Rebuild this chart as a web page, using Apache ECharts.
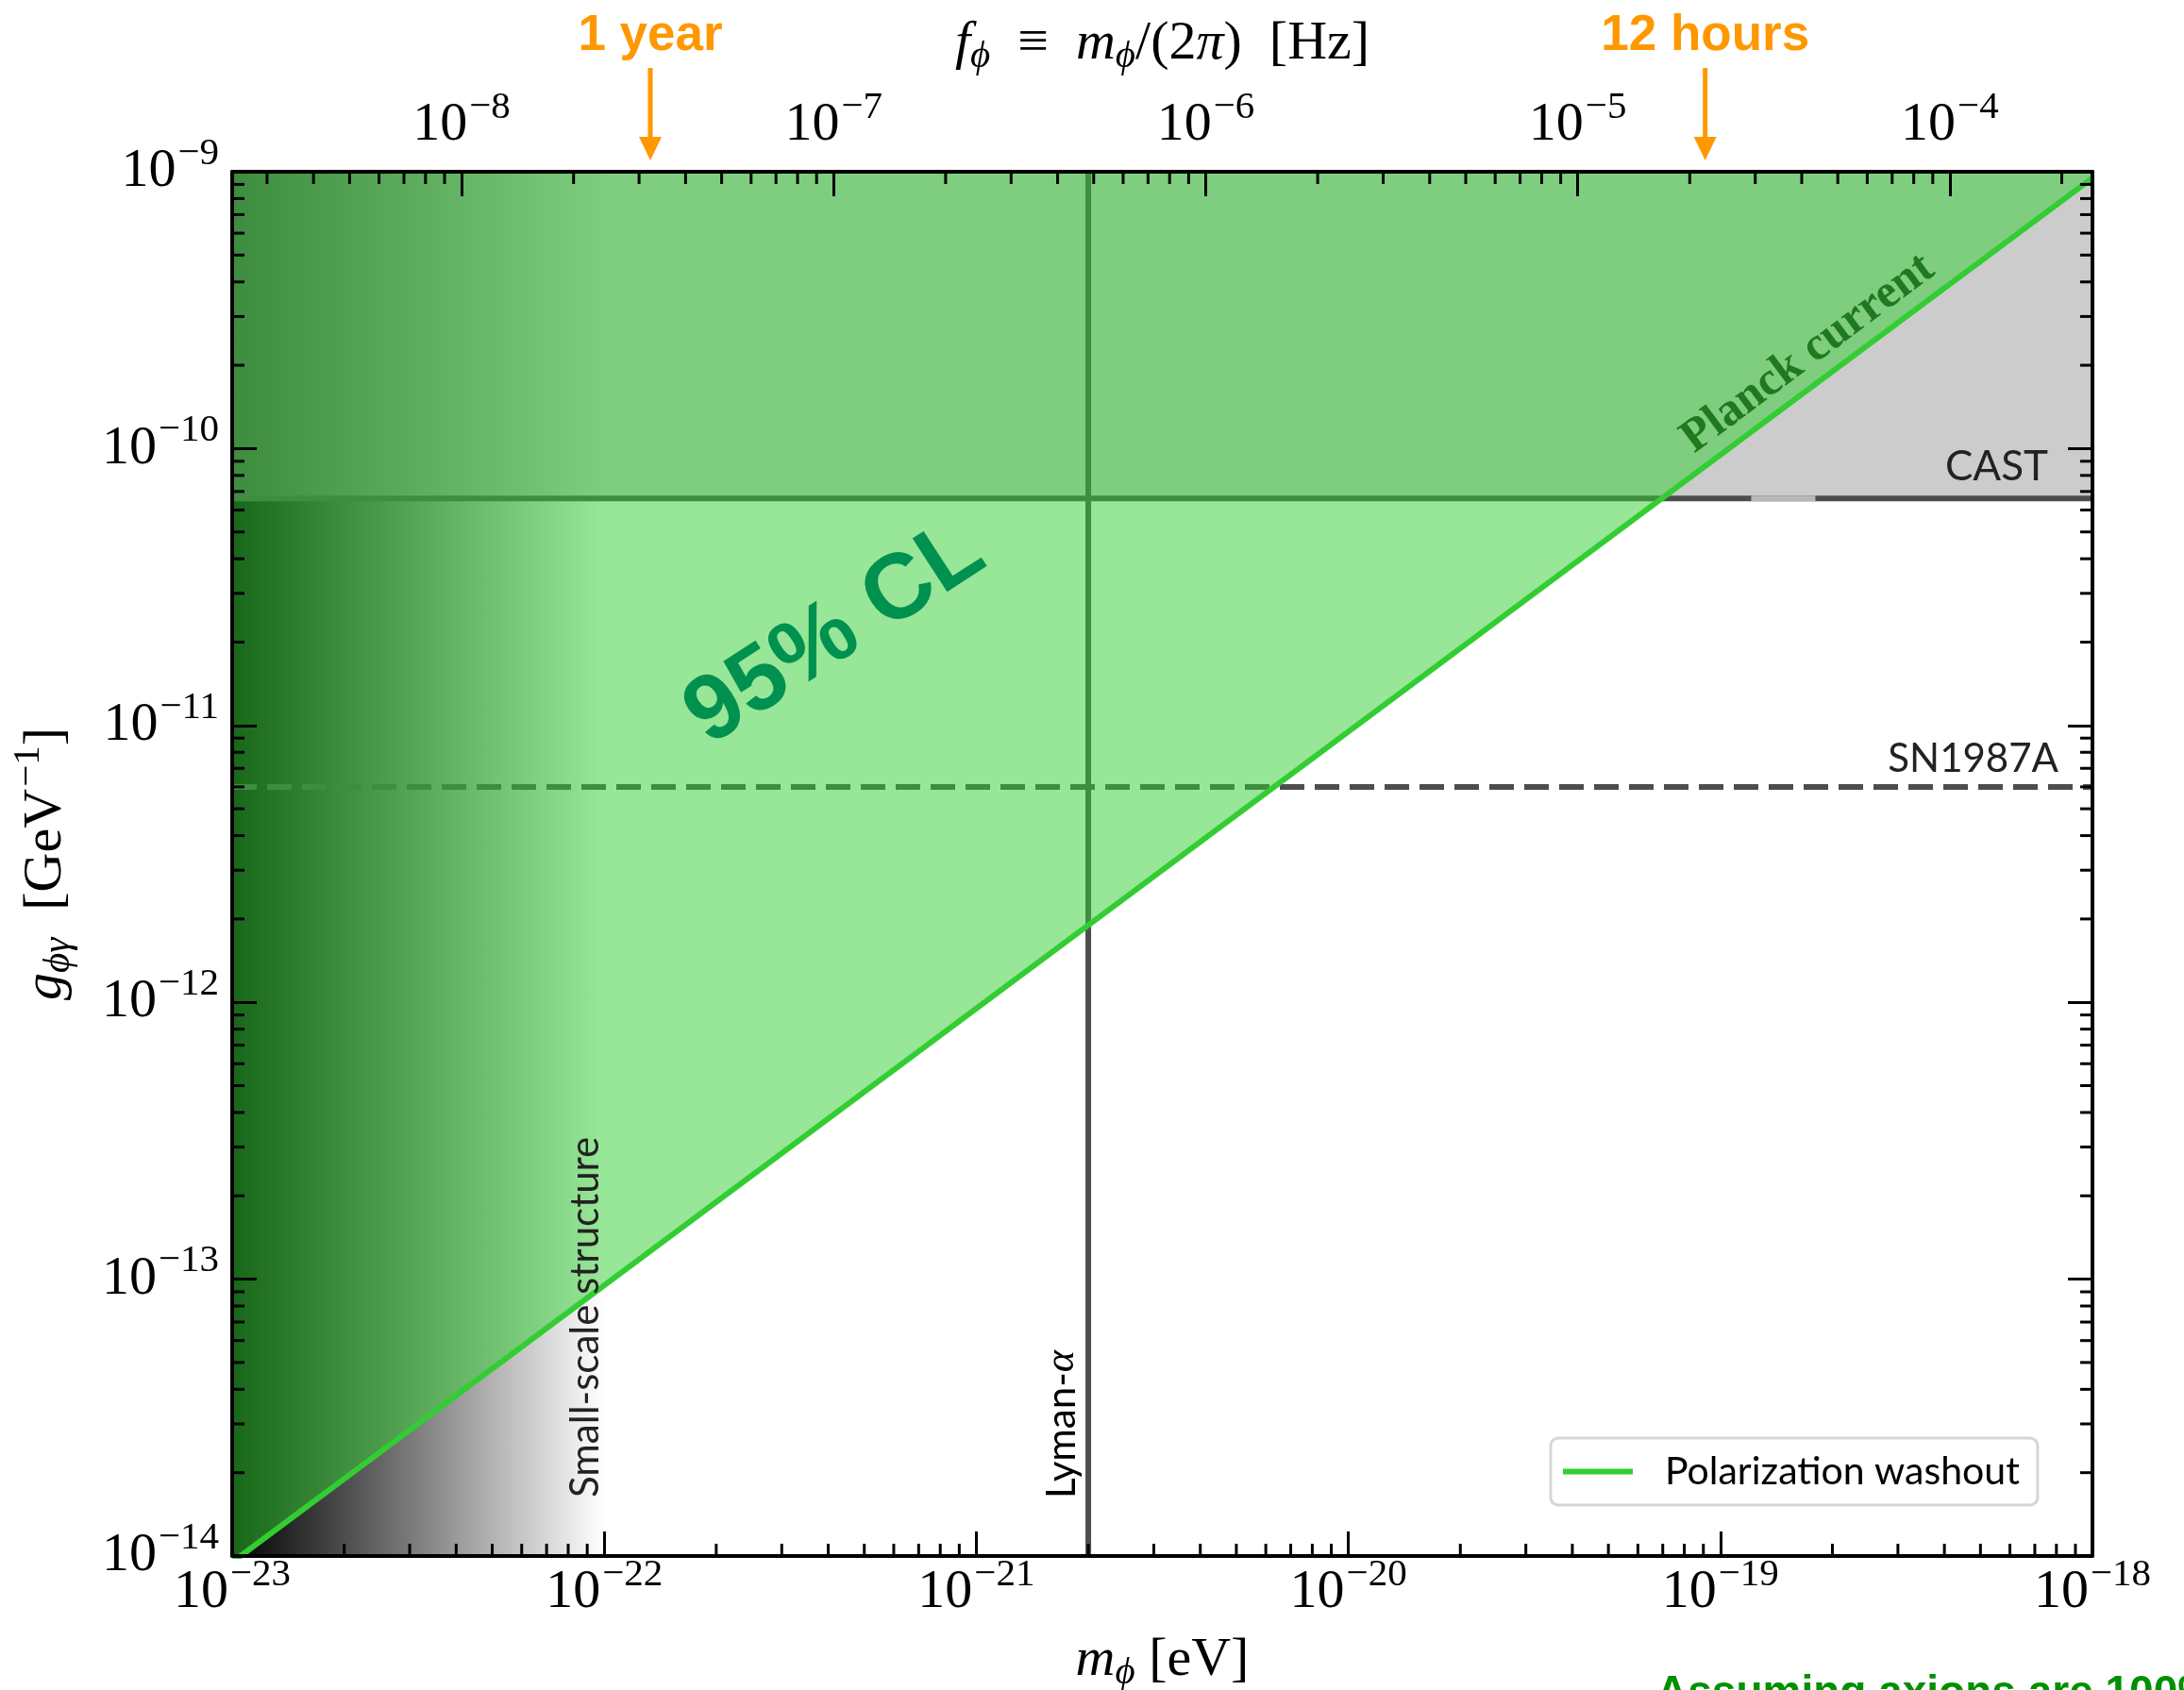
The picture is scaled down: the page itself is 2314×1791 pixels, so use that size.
<!DOCTYPE html>
<html><head><meta charset="utf-8">
<script src="https://cdn.jsdelivr.net/npm/echarts@6/dist/echarts.min.js"></script>
<style>html,body{margin:0;padding:0;background:#fff}#main{width:2314px;height:1791px}</style>
</head><body><div id="main"></div>
<script>
// ---------------- data ----------------
const massRange = [1e-23, 1e-18];            // m_phi [eV]
const couplingRange = [1e-14, 1e-9];         // g_phi-gamma [GeV^-1]
const eVtoHz = 2.418e14;                     // f = m/(2 pi hbar)
const washoutMass = [1e-23, 1e-18];
const washoutCoupling = [9.5e-15, 9.5e-10];
const castCoupling = 6.6e-11;
const castGapMass = [1.21e-19, 1.8e-19];
const sn1987aCoupling = 6.0e-12;
const lymanAlphaMass = 2.0e-21;
const smallScaleMass = [1e-23, 1e-22];
const periodLabels = ['1 year', '12 hours'];
const periodMasses = [1.33e-22, 9.1e-20];

// ECharts rounds very small numbers, so the axes work in scaled units
const M_EXP = -23, G_EXP = -14, F_EXP = -9;
const mU = m => m / Math.pow(10, M_EXP);
const gU = g => g / Math.pow(10, G_EXP);
const fU = f => f / Math.pow(10, F_EXP);
const xy = (m, g) => [mU(m), gU(g)];
const freqRangeU = [fU(massRange[0] * eVtoHz), fU(massRange[1] * eVtoHz)];

// ---------------- helpers ----------------
const SERIF = 'Liberation Serif';
const SANS = 'Lato';
const MAJOR = 26, MINOR = 13, TICKW = 3, LW = 6;

function minorValues(lo, hi) {
  const out = [];
  for (let e = Math.floor(Math.log10(lo)) - 1; e <= Math.ceil(Math.log10(hi)); e++) {
    for (let k = 2; k <= 9; k++) {
      const v = k * Math.pow(10, e);
      if (v > lo * 1.0001 && v < hi * 0.9999) out.push(v);
    }
  }
  return out;
}
function powLabelFn(shift) {
  return function (v) {
    const l = Math.log10(v), e0 = Math.round(l);
    if (!isFinite(l) || Math.abs(l - e0) > 1e-4) return '';
    const e = e0 + shift;
    return '{b|10}{s|' + (e < 0 ? '\u2212' : '') + Math.abs(e) + '}';
  };
}
const tickRich = {
  b: { fontFamily: SERIF, fontSize: 58, lineHeight: 62, color: '#000', verticalAlign: 'middle' },
  s: { fontFamily: SERIF, fontSize: 41, lineHeight: 44, color: '#000', verticalAlign: 'middle', padding: [0, 0, 38, 2] }
};
function tickSeries(valuesU, side) {
  return {
    type: 'custom', coordinateSystem: 'cartesian2d', xAxisIndex: 0, yAxisIndex: 0,
    z: 11, silent: true, clip: false,
    data: valuesU.map(v => (side === 'bottom' || side === 'top') ? [v, 1] : [1, v]),
    renderItem: function (params, api) {
      const cs = params.coordSys;
      const p = api.coord([api.value(0), api.value(1)]);
      let shape;
      if (side === 'bottom') shape = { x1: p[0], y1: cs.y + cs.height, x2: p[0], y2: cs.y + cs.height - MINOR };
      else if (side === 'top') shape = { x1: p[0], y1: cs.y, x2: p[0], y2: cs.y + MINOR };
      else if (side === 'left') shape = { x1: cs.x, y1: p[1], x2: cs.x + MINOR, y2: p[1] };
      else shape = { x1: cs.x + cs.width, y1: p[1], x2: cs.x + cs.width - MINOR, y2: p[1] };
      return { type: 'line', shape: shape, style: { stroke: '#000', lineWidth: TICKW } };
    }
  };
}
function axisCommon(extra) {
  return Object.assign({
    type: 'log', logBase: 10, z: 10,
    axisLine: { show: true, onZero: false, lineStyle: { color: '#000', width: 4 } },
    axisTick: { show: true, inside: true, length: MAJOR, lineStyle: { color: '#000', width: TICKW } },
    minorTick: { show: false }, splitLine: { show: false }, minorSplitLine: { show: false }
  }, extra);
}

const chart = echarts.init(document.getElementById('main'), null, { renderer: 'canvas' });

const option = {
  backgroundColor: '#fff',
  animation: false,
  grid: { left: 246, top: 182, width: 1971, height: 1467, show: false },
  legend: {
    data: ['Polarization washout'], left: 1643, top: 1524, z: 20,
    padding: [13, 19, 13, 13], backgroundColor: '#fff',
    borderColor: '#d6d6d6', borderWidth: 3, borderRadius: 8,
    icon: 'rect', itemWidth: 74, itemHeight: 6,
    textStyle: { fontFamily: SANS, fontSize: 41, lineHeight: 45, color: '#000', padding: [0, 0, 0, 29] }
  },
  xAxis: [
    axisCommon({ position: 'bottom', min: mU(massRange[0]), max: mU(massRange[1]),
      axisLabel: { margin: 8, formatter: powLabelFn(M_EXP), rich: tickRich, showMinLabel: true, showMaxLabel: true } }),
    axisCommon({ position: 'top', min: freqRangeU[0], max: freqRangeU[1],
      axisLabel: { margin: 18, formatter: powLabelFn(F_EXP), rich: tickRich, showMinLabel: false, showMaxLabel: false } })
  ],
  yAxis: [
    axisCommon({ position: 'left', min: gU(couplingRange[0]), max: gU(couplingRange[1]),
      axisLabel: { margin: 14, formatter: powLabelFn(G_EXP), rich: tickRich } }),
    axisCommon({ position: 'right', min: gU(couplingRange[0]), max: gU(couplingRange[1]),
      axisLabel: { show: false } })
  ],
  series: [
    // small-scale structure gradient
    {
      type: 'custom', xAxisIndex: 0, yAxisIndex: 0, z: 1, silent: true, clip: true,
      data: [xy(smallScaleMass[0], couplingRange[1])],
      renderItem: function (params, api) {
        const a = api.coord(xy(smallScaleMass[0], couplingRange[1]));
        const b = api.coord(xy(smallScaleMass[1], couplingRange[0]));
        return { type: 'rect', shape: { x: a[0], y: a[1], width: b[0] - a[0], height: b[1] - a[1] },
          style: { fill: new echarts.graphic.LinearGradient(0, 0, 1, 0, [
            { offset: 0, color: '#000000' }, { offset: 1, color: '#ffffff' }]) } };
      }
    },
    // CAST excluded region
    {
      type: 'custom', xAxisIndex: 0, yAxisIndex: 0, z: 2, silent: true, clip: true,
      data: [xy(massRange[0], castCoupling)],
      renderItem: function (params, api) {
        const pts = [api.coord(xy(massRange[0], castCoupling)), api.coord(xy(massRange[1], castCoupling)),
          api.coord(xy(massRange[1], couplingRange[1])), api.coord(xy(massRange[0], couplingRange[1]))];
        return { type: 'polygon', shape: { points: pts }, style: { fill: 'rgba(151,151,151,0.49)' } };
      }
    },
    // CAST line
    { type: 'line', name: 'CAST', z: 3, symbol: 'none', silent: true,
      data: [xy(massRange[0], castCoupling), xy(massRange[1], castCoupling)],
      lineStyle: { color: '#4d4d4d', width: LW } },
    { type: 'line', name: 'CASTgap', z: 3, symbol: 'none', silent: true,
      data: [xy(castGapMass[0], castCoupling), xy(castGapMass[1], castCoupling)],
      lineStyle: { color: '#b8b8b8', width: LW } },
    // SN1987A
    { type: 'line', name: 'SN1987A', z: 3, symbol: 'none', silent: true,
      data: [xy(massRange[0], sn1987aCoupling), xy(massRange[1], sn1987aCoupling)],
      lineStyle: { color: '#4d4d4d', width: LW, type: [26, 11] } },
    // Lyman-alpha
    { type: 'line', name: 'Lyman', z: 3, symbol: 'none', silent: true,
      data: [xy(lymanAlphaMass, couplingRange[0]), xy(lymanAlphaMass, couplingRange[1])],
      lineStyle: { color: '#4d4d4d', width: LW } },
    // excluded (95% CL) green region
    {
      type: 'custom', xAxisIndex: 0, yAxisIndex: 0, z: 4, silent: true, clip: true,
      data: [xy(washoutMass[0], washoutCoupling[0])],
      renderItem: function (params, api) {
        const pts = [api.coord(xy(washoutMass[0], washoutCoupling[0])), api.coord(xy(washoutMass[1], washoutCoupling[1])),
          api.coord(xy(massRange[1], couplingRange[1])), api.coord(xy(massRange[0], couplingRange[1]))];
        return { type: 'polygon', shape: { points: pts }, style: { fill: 'rgba(50,205,50,0.5)' } };
      }
    },
    // washout line
    { type: 'line', name: 'Polarization washout', z: 5, symbol: 'none', silent: true,
      data: washoutMass.map((m, i) => xy(m, washoutCoupling[i])),
      itemStyle: { color: '#32cd32' },
      lineStyle: { color: '#32cd32', width: LW } },
    // period markers (arrows above the frame)
    {
      type: 'custom', xAxisIndex: 0, yAxisIndex: 0, z: 12, silent: true, clip: false,
      data: periodMasses.map(m => xy(m, couplingRange[1])),
      renderItem: function (params, api) {
        const cs = params.coordSys;
        const x = api.coord([api.value(0), api.value(1)])[0];
        const top = cs.y;
        return { type: 'group', children: [
          { type: 'line', shape: { x1: x, y1: top - 110, x2: x, y2: top - 34 }, style: { stroke: '#ff9800', lineWidth: 5 } },
          { type: 'polygon', shape: { points: [[x - 12, top - 37], [x + 12, top - 37], [x, top - 12]] }, style: { fill: '#ff9800' } },
          { type: 'text', x: x, y: top - 144, style: { text: periodLabels[params.dataIndex], fill: '#ff9800',
            fontFamily: 'Liberation Sans', fontWeight: 'bold', fontSize: 53, align: 'center', verticalAlign: 'middle' } }
        ] };
      }
    },
    tickSeries(minorValues(massRange[0], massRange[1]).map(mU), 'bottom'),
    tickSeries(minorValues(massRange[0] * eVtoHz, massRange[1] * eVtoHz).map(f => mU(f / eVtoHz)), 'top'),
    tickSeries(minorValues(couplingRange[0], couplingRange[1]).map(gU), 'left'),
    tickSeries(minorValues(couplingRange[0], couplingRange[1]).map(gU), 'right')
  ]
};
chart.setOption(option);

// ---------------- annotations ----------------
const P = (m, g) => chart.convertToPixel({ xAxisIndex: 0, yAxisIndex: 0 }, xy(m, g));
const g0 = P(massRange[0], couplingRange[1]);   // top-left of frame
const g1 = P(massRange[1], couplingRange[0]);   // bottom-right of frame
const cx = (g0[0] + g1[0]) / 2;
const lineAngle = Math.atan2(g1[1] - g0[1], g1[0] - g0[0]);
const mathRich = {
  r: { fontFamily: SERIF, fontSize: 58, lineHeight: 62, color: '#000', verticalAlign: 'middle' },
  i: { fontFamily: SERIF, fontSize: 58, lineHeight: 62, fontStyle: 'italic', color: '#000', verticalAlign: 'middle' },
  sub: { fontFamily: SERIF, fontSize: 41, lineHeight: 44, fontStyle: 'italic', color: '#000', verticalAlign: 'middle', padding: [26, 0, 0, 0] },
  sup: { fontFamily: SERIF, fontSize: 41, lineHeight: 44, color: '#000', verticalAlign: 'middle', padding: [0, 0, 38, 2] }
};
const castPx = P(massRange[1], castCoupling);
const snPx = P(massRange[1], sn1987aCoupling);
const lymanPx = P(lymanAlphaMass, couplingRange[0]);
const ssPx = P(smallScaleMass[1], couplingRange[0]);
const clPx = P(4.18e-22, 2.14e-11);
const planckPx = P(1.72e-19, 2.2e-10);

chart.setOption({
  graphic: [
    { type: 'text', x: cx, y: g1[1] + 111, z: 30, style: { text: '{i|m}{sub|\u03d5}{r| [eV]}', rich: mathRich, align: 'center', verticalAlign: 'middle' } },
    { type: 'text', x: 49, y: (g0[1] + g1[1]) / 2, rotation: Math.PI / 2, z: 30,
      style: { text: '{i|g}{sub|\u03d5\u03b3}{r|  [GeV}{sup|\u22121}{r|]}', rich: mathRich, align: 'center', verticalAlign: 'middle' } },
    { type: 'text', x: cx, y: g0[1] - 135, z: 30,
      style: { text: '{i|f}{sub|\u03d5}{r|  \u2261  }{i|m}{sub|\u03d5}{r|/(2}{i|\u03c0}{r|)  [Hz]}', rich: mathRich, align: 'center', verticalAlign: 'middle' } },
    { type: 'text', x: castPx[0] - 47, y: castPx[1] - 12, z: 30,
      style: { text: 'CAST', fontFamily: SANS, fontSize: 44, fill: '#222', align: 'right', verticalAlign: 'bottom' } },
    { type: 'text', x: snPx[0] - 36, y: snPx[1] - 8, z: 30,
      style: { text: 'SN1987A', fontFamily: SANS, fontSize: 42, fill: '#222', align: 'right', verticalAlign: 'bottom' } },
    { type: 'text', x: ssPx[0] - 20, y: ssPx[1] - 62, rotation: Math.PI / 2, z: 30,
      style: { text: 'Small-scale structure', fontFamily: SANS, fontSize: 42, fill: '#222', align: 'left', verticalAlign: 'middle' } },
    { type: 'text', x: lymanPx[0] - 28, y: lymanPx[1] - 61, rotation: Math.PI / 2, z: 30,
      style: { text: '{a|Lyman-}{b|\u03b1}', align: 'left', verticalAlign: 'middle',
        rich: { a: { fontFamily: SANS, fontSize: 42, color: '#222' },
                b: { fontFamily: SERIF, fontStyle: 'italic', fontSize: 44, color: '#222' } } } },
    { type: 'text', x: clPx[0], y: clPx[1], rotation: 33 * Math.PI / 180, z: 30,
      style: { text: '95% CL', fontFamily: 'Liberation Sans', fontWeight: 'bold', fontSize: 98, fill: '#009150', align: 'center', verticalAlign: 'middle' } },
    { type: 'text', x: planckPx[0], y: planckPx[1], rotation: lineAngle, z: 30,
      style: { text: 'Planck current', fontFamily: SERIF, fontWeight: 'bold', fontSize: 50, fill: '#1f7a1f', align: 'center', verticalAlign: 'middle' } },
    { type: 'text', x: 1755, y: 1772, z: 30,
      style: { text: 'Assuming axions are 100% of dark matter', fontFamily: 'Liberation Sans', fontWeight: 'bold', fontSize: 46, fill: '#009000', align: 'left', verticalAlign: 'top' } }
  ]
});
</script></body></html>
